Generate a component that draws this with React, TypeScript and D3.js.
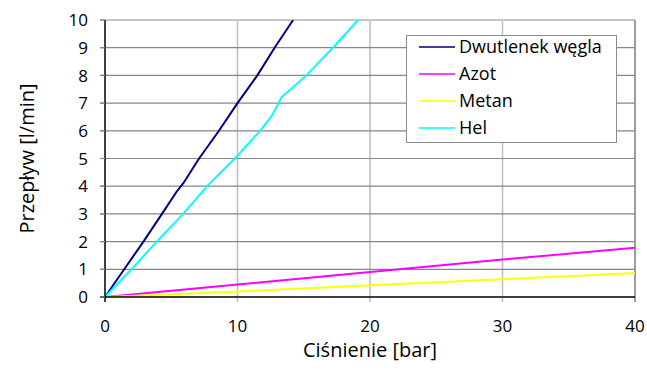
import React from 'react';
import * as d3 from 'd3';

// wartości (ciśnienie [bar], przepływ [l/min])
const co2P = [0, 1.45, 2.9, 4.3, 5.4, 5.9, 7.1, 8.6, 10, 11.5, 12.8, 14.2];
const co2Q = [0, 1, 2, 3, 3.8, 4.1, 5, 6, 7, 8, 9, 10];
const azotP = [0, 10, 20, 30, 40];
const azotQ = [0, 0.45, 0.9, 1.35, 1.78];
const metanP = [0, 10, 20, 30, 40];
const metanQ = [0, 0.2, 0.42, 0.64, 0.87];
const helP = [0, 2.0, 3.9, 5.9, 7.8, 9.8, 11.7, 12.6, 13.1, 13.3, 15.2, 17.2, 19.1];
const helQ = [0, 1, 2, 3, 4.05, 5, 6, 6.55, 7, 7.2, 8, 9, 10];

const seriesNames = ['Dwutlenek węgla', 'Azot', 'Metan', 'Hel'];
const seriesColors = ['#000080', '#ff00ff', '#ffff00', '#00ffff'];
const xTicks = [0, 10, 20, 30, 40];
const yTicks = [0, 1, 2, 3, 4, 5, 6, 7, 8, 9, 10];

const W = 647;
const H = 374;
const margin = { left: 105, right: 12, top: 20, bottom: 77 };
const font = "'Open Sans', sans-serif";

export default function App() {
  const x = d3.scaleLinear().domain([0, 40]).range([margin.left, W - margin.right]);
  const y = d3.scaleLinear().domain([0, 10]).range([H - margin.bottom, margin.top]);

  const series = [
    d3.zip(co2P, co2Q),
    d3.zip(azotP, azotQ),
    d3.zip(metanP, metanQ),
    d3.zip(helP, helQ),
  ];

  const line = d3
    .line<number[]>()
    .x((d) => x(d[0]))
    .y((d) => y(d[1]));

  const x0 = x(0);
  const x1 = x(40);
  const y0 = y(0);
  const y1 = y(10);

  return (
    <svg
      width={W}
      height={H}
      style={{ position: 'absolute', left: 0, top: 0, background: '#fff' }}
      fontFamily={font}
    >
      <defs>
        <clipPath id="plot">
          <rect x={x0} y={y1} width={x1 - x0} height={y0 - y1} />
        </clipPath>
      </defs>

      {/* siatka pionowa */}
      {xTicks.slice(1).map((t) => (
        <line key={'vx' + t} x1={x(t)} x2={x(t)} y1={y1} y2={y0 + 5} stroke="#bdbdbd" strokeWidth={1.5} />
      ))}
      {/* siatka pozioma */}
      {yTicks.slice(1).map((t) => (
        <line
          key={'hy' + t}
          x1={x0 - 5}
          x2={x1}
          y1={y(t)}
          y2={y(t)}
          stroke={t === 10 ? '#c4c4c4' : '#878787'}
          strokeWidth={t === 10 ? 2 : 1.2}
        />
      ))}
      <line x1={x1} x2={x1} y1={y1} y2={y0 + 5} stroke="#8c8c8c" strokeWidth={1.5} />

      {/* serie */}
      <g clipPath="url(#plot)">
        {series.map((s, i) => (
          <path key={seriesNames[i]} d={line(s) ?? ''} fill="none" stroke={seriesColors[i]} strokeWidth={2} />
        ))}
      </g>

      {/* osie */}
      <line x1={x0} x2={x0} y1={y1} y2={y0 + 5} stroke="#000" strokeWidth={1.5} />
      <line x1={x0 - 5} x2={x1} y1={y0} y2={y0} stroke="#000" strokeWidth={1.5} />
      {yTicks.map((t) => (
        <line key={'ty' + t} x1={x0 - 5} x2={x0} y1={y(t)} y2={y(t)} stroke="#878787" strokeWidth={1.2} />
      ))}

      {yTicks.map((t) => (
        <text key={'ly' + t} x={88} y={y(t)} dy="0.36em" textAnchor="end" fontSize={17} fill="#000">
          {t}
        </text>
      ))}
      {xTicks.map((t) => (
        <text key={'lx' + t} x={x(t)} y={332} textAnchor="middle" fontSize={17} fill="#000">
          {t}
        </text>
      ))}

      <text x={(x0 + x1) / 2} y={357} textAnchor="middle" fontSize={20} fill="#000">
        Ciśnienie [bar]
      </text>
      <text
        transform={`translate(34, ${(y0 + y1) / 2}) rotate(-90)`}
        textAnchor="middle"
        fontSize={20}
        fill="#000"
      >
        Przepływ [l/min]
      </text>

      {/* legenda */}
      <g>
        <rect x={406.5} y={35.5} width={210} height={107} fill="#fff" stroke="#8c8c8c" strokeWidth={1} />
        {seriesNames.map((n, i) => (
          <g key={n} transform={`translate(0, ${47 + i * 27})`}>
            <line x1={419} x2={455} y1={0} y2={0} stroke={seriesColors[i]} strokeWidth={1.5} />
            <text x={459} y={0} dy="0.36em" fontSize={18} fill="#000">
              {n}
            </text>
          </g>
        ))}
      </g>
    </svg>
  );
}
